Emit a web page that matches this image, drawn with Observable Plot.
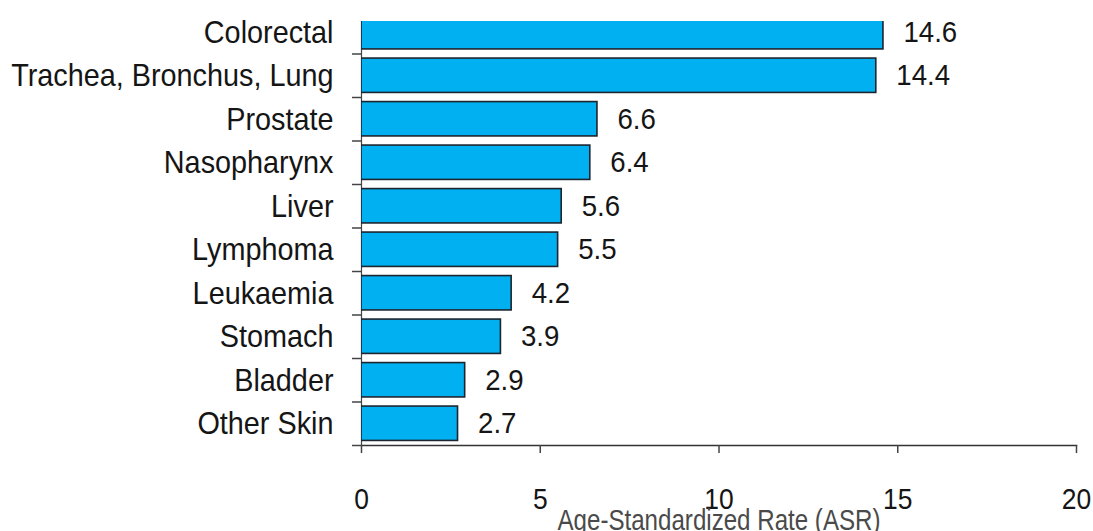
<!DOCTYPE html>
<html><head><meta charset="utf-8">
<script src="https://cdn.jsdelivr.net/npm/d3@7"></script>
<script src="https://cdn.jsdelivr.net/npm/@observablehq/plot@0.6"></script>
<style>
html,body{margin:0;padding:0;background:#fff;overflow:hidden}
svg{display:block}
</style>
</head><body><div id="chart"></div>
<script>
const categories = ["Colorectal","Trachea, Bronchus, Lung","Prostate","Nasopharynx","Liver","Lymphoma","Leukaemia","Stomach","Bladder","Other Skin"];
const rates = [14.6,14.4,6.6,6.4,5.6,5.5,4.2,3.9,2.9,2.7];
const xTicks = [0,5,10,15,20];
const xTitle = "Age-Standardized Rate (ASR)";

const data = categories.map((c, i) => ({cancer: c, asr: rates[i]}));

const yRange = [10, 445];
const step = (yRange[1] - yRange[0]) / categories.length;
const font = "'Liberation Sans', Arial, sans-serif";

const chart = Plot.plot({
  width: 1093, height: 531,
  marginLeft: 361, marginRight: 17, marginTop: 21, marginBottom: 86,
  style: {fontFamily: font, color: "#151515", background: "#fff", overflow: "hidden"},
  x: {domain: [0, 20], ticks: xTicks, label: null},
  y: {domain: categories, range: yRange, paddingInner: 0.21, paddingOuter: 0.105, round: false, label: null},
  marks: [
    Plot.ruleX([0], {stroke: "#444", strokeWidth: 1.2}),
    Plot.frame({anchor: "bottom", stroke: "#333", strokeWidth: 1.5}),
    Plot.axisY({tickSize: 0, tickPadding: 28, fontSize: 32, label: null, className: "ylab"}),
    Plot.axisY({tickSize: 9, tickFormat: () => "", dy: step / 2, stroke: "#444", strokeWidth: 1.5, label: null}),
    Plot.axisX({ticks: xTicks, tickSize: 8, tickPadding: 34, fontSize: 30, stroke: "#444", strokeWidth: 1.5, label: null, className: "xlab"}),
    Plot.barX(data, {x: "asr", y: "cancer", fill: "#00b0f0", stroke: "#1c2530", strokeWidth: 1.6, clip: true}),
    Plot.text(data, {x: "asr", y: "cancer", text: d => d.asr.toFixed(1), textAnchor: "start", dx: 20, fontSize: 30, fill: "#151515", className: "vals"}),
    Plot.text([xTitle], {text: d => d, frameAnchor: "bottom", lineAnchor: "bottom", dy: 84, fontSize: 30, fill: "#4a4a4a", className: "xtitle"})
  ]
});
document.getElementById("chart").append(chart);

// the original's lettering is tall and slightly condensed
function condense(selector, factor) {
  chart.querySelectorAll(selector).forEach(t => {
    const L = t.getComputedTextLength();
    if (L > 0) {
      t.setAttribute("textLength", (L * factor).toFixed(1));
      t.setAttribute("lengthAdjust", "spacingAndGlyphs");
    }
  });
}
condense(".ylab text", 0.9);
condense(".xlab text", 0.88);
condense(".vals text", 0.92);
chart.querySelectorAll(".xtitle text").forEach(t => {
  t.setAttribute("textLength", 323);
  t.setAttribute("lengthAdjust", "spacingAndGlyphs");
});
</script>
</body></html>
